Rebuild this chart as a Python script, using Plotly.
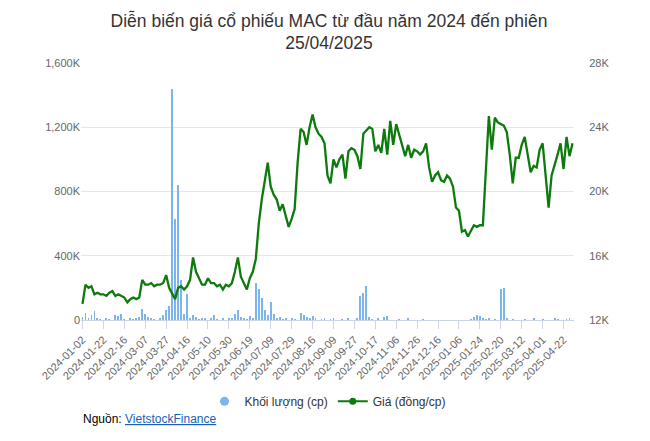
import plotly.graph_objects as go

tick_labels = ["2024-01-02","2024-01-22","2024-02-16","2024-03-07","2024-03-27","2024-04-16",
               "2024-05-10","2024-05-30","2024-06-19","2024-07-09","2024-07-29","2024-08-16",
               "2024-09-09","2024-09-27","2024-10-17","2024-11-06","2024-11-26","2024-12-16",
               "2025-01-06","2025-01-24","2025-02-20","2025-03-12","2025-04-01","2025-04-22"]

price = [13.0,14.2,14.0,14.1,13.6,13.7,13.6,
         13.6,13.5,13.7,13.8,13.5,13.6,13.5,
         13.4,13.1,13.3,13.4,13.3,13.4,14.5,
         14.2,14.2,14.3,14.1,14.2,14.2,14.3,
         14.8,14.0,13.6,13.3,14.0,14.1,13.9,
         14.1,14.5,15.9,15.0,14.6,14.2,14.2,
         14.6,14.3,14.3,14.1,14.2,13.9,14.2,
         14.1,14.3,15.0,15.9,14.7,14.3,13.9,
         14.6,15.0,15.8,18.0,19.5,20.8,21.8,
         20.3,19.8,19.5,18.8,19.2,18.5,17.8,
         18.3,18.9,21.8,23.9,23.7,22.9,24.0,
         24.8,24.0,23.6,23.4,23.0,21.0,20.5,
         22.0,21.5,22.0,22.3,20.8,22.5,22.7,
         22.6,22.2,21.4,23.6,23.8,24.0,23.9,
         22.5,22.9,22.4,23.9,22.3,24.4,22.9,
         24.2,23.5,22.9,22.2,22.9,22.1,22.6,
         22.5,22.3,22.5,23.0,21.5,20.6,21.0,
         21.2,20.7,20.6,21.0,20.8,20.3,19.0,
         18.8,17.5,17.6,17.2,17.6,17.9,17.8,
         17.9,17.9,21.5,24.7,22.6,24.6,24.3,
         24.2,24.1,23.7,22.3,20.5,22.1,22.1,
         22.9,23.4,22.3,21.2,21.6,21.5,22.6,
         23.0,21.0,19.0,21.0,21.6,22.3,23.0,
         21.4,23.4,22.2,23.0]

volume = [20,45,15,30,55,10,5,
          0,10,5,0,30,25,40,
          5,0,10,5,15,20,70,
          40,20,10,5,0,15,30,
          60,90,1440,630,840,250,40,
          160,10,30,20,5,15,10,
          0,10,30,5,0,10,0,
          10,15,40,60,20,10,5,
          25,15,230,190,140,60,30,
          110,40,10,20,5,15,0,
          10,5,0,45,30,20,10,
          25,10,0,5,10,0,5,
          10,0,0,5,0,10,0,
          0,10,150,170,210,20,5,
          0,10,0,20,25,0,0,
          0,5,0,0,10,0,0,
          0,0,5,0,0,0,0,
          0,0,0,0,0,0,0,
          0,0,0,0,5,20,30,
          25,10,5,10,0,5,0,
          190,200,10,0,5,0,0,
          0,5,0,0,10,0,0,
          5,0,0,0,10,5,0,
          0,5,10,0]

x = list(range(len(price)))
tickvals = [7 * i for i in range(len(tick_labels))]

fig = go.Figure()
fig.add_trace(go.Bar(x=x, y=[v * 1000 for v in volume], name="Khối lượng (cp)", showlegend=False,
                     marker=dict(color="#7cb5ec", line=dict(width=0)), width=0.3, yaxis="y"))
fig.add_trace(go.Scatter(x=x, y=[p * 1000 for p in price], name="Giá (đồng/cp)", mode="lines",
                         showlegend=False, line=dict(color="#0d7a0d", width=2.3), yaxis="y2"))
fig.add_trace(go.Scatter(x=[None], y=[None], name="Khối lượng (cp)", mode="markers",
                         marker=dict(color="#7cb5ec", size=9, symbol="circle")))
fig.add_trace(go.Scatter(x=[None], y=[None], name="Giá (đồng/cp)", mode="lines+markers",
                         marker=dict(color="#0d7a0d", size=7), line=dict(color="#0d7a0d", width=2)))

fig.update_layout(
    width=642, height=433, plot_bgcolor="white", paper_bgcolor="white",
    margin=dict(l=73, r=76, t=55, b=121, autoexpand=False),
    font=dict(family="Liberation Sans, Arial", color="#333"),
    title=dict(text="Diễn biến giá cổ phiếu MAC từ đầu năm 2024 đến phiên<br>25/04/2025",
               x=0.5, xanchor="center", yref="container", y=0.957, yanchor="top",
               font=dict(size=17.5, color="#333")),
    xaxis=dict(tickmode="array", tickvals=tickvals, ticktext=tick_labels, tickangle=-45,
               range=[-0.5, len(price) - 0.5], showgrid=False, showline=True, linecolor="#ccd6eb",
               ticks="outside", tickcolor="#ccd6eb", ticklen=8, tickfont=dict(size=11, color="#666"),
               automargin=False),
    yaxis=dict(range=[0, 1600000], tickvals=[0, 400000, 800000, 1200000, 1600000],
               ticktext=["0", "400K", "800K", "1,200K", "1,600K"], gridcolor="#e6e6e6",
               tickfont=dict(size=11, color="#666"), zeroline=False, automargin=False),
    yaxis2=dict(range=[12000, 28000], overlaying="y", side="right",
                tickvals=[12000, 16000, 20000, 24000, 28000],
                ticktext=["12K", "16K", "20K", "24K", "28K"], showgrid=False,
                ticks="outside", ticklen=12, tickcolor="rgba(0,0,0,0)",
                tickfont=dict(size=11, color="#666"), zeroline=False, automargin=False),
    legend=dict(orientation="h", x=0.5, xanchor="center", y=-0.26, yanchor="top",
                font=dict(size=12, color="#333")),
    bargap=0, showlegend=True,
)
fig.add_annotation(text='Nguồn: <a href="https://finance.vietstock.vn" style="color:#1a5fb4">'
                        '<u>VietstockFinance</u></a>',
                   xref="paper", yref="paper", x=0.0, y=-0.35, xanchor="left", yanchor="top",
                   showarrow=False, font=dict(size=12, color="#000"))
fig.write_html("out.html")
